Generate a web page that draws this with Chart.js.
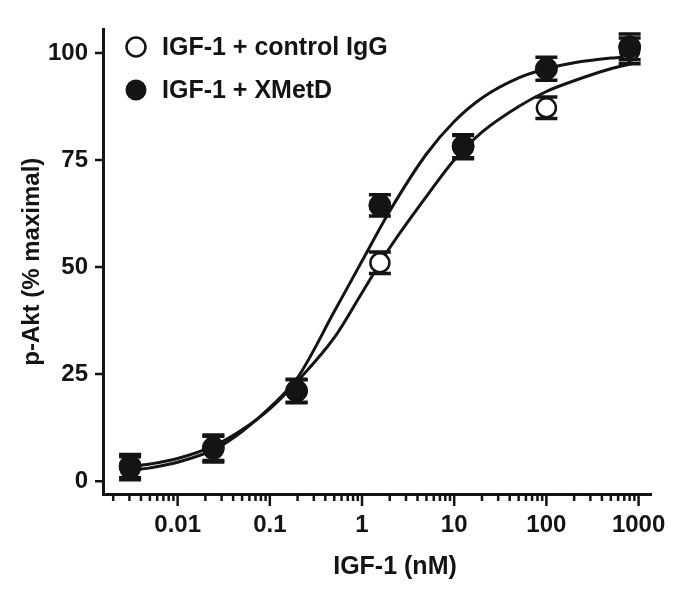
<!DOCTYPE html>
<html>
<head>
<meta charset="utf-8">
<style>
  html, body { margin: 0; padding: 0; background: #fff; }
  canvas { display: block; }
</style>
<script src="https://cdn.jsdelivr.net/npm/chart.js@4.4.1/dist/chart.umd.min.js"></script>
</head>
<body>
<canvas id="aktChart" width="683" height="600"></canvas>
<script>
// ===== Data =====
const doses = [0.00305, 0.0244, 0.195, 1.5625, 12.5, 100, 800];
const controlMean = [3.0, 7.5, 21.0, 51.0, 78.0, 87.2, 100.5];
const controlErr = [2.7, 3.0, 2.7, 2.5, 2.7, 2.5, 3.0];
const xmetdMean = [3.5, 7.8, 21.1, 64.4, 78.2, 96.3, 101.4];
const xmetdErr = [2.7, 3.0, 2.7, 2.5, 2.7, 2.7, 3.0];

// fitted curves
const fitDoses = [0.00305, 0.005, 0.01, 0.025, 0.05, 0.1, 0.2, 0.5, 1, 2, 5, 10, 20, 50, 100, 200, 500, 850];
const controlFit = [3.4, 4.0, 5.3, 8.3, 12.0, 16.9, 23.4, 33.5, 44.0, 54.5, 66.5, 75.0, 81.5, 87.5, 91.0, 93.5, 96.3, 97.5];
const xmetdFit = [2.5, 3.1, 4.4, 7.4, 11.6, 17.2, 24.2, 39.6, 51.4, 63.1, 76.4, 84.0, 89.5, 94.2, 96.3, 97.7, 98.8, 99.2];

const xTickValues = [0.01, 0.1, 1, 10, 100, 1000];
const xTickLabels = ["0.01", "0.1", "1", "10", "100", "1000"];
const yTickValues = [0, 25, 50, 75, 100];

const seriesLabels = ["IGF-1 + control IgG", "IGF-1 + XMetD"];

const INK = "#141414";
const FONT = "'Liberation Sans', Arial, sans-serif";

// ===== Error bars, axis ticks, legend =====
const decorPlugin = {
    id: "decor",
    beforeDatasetDraw(chart, args) {
        const ds = chart.data.datasets[args.index];
        if (!ds.errorBars) return;
        const ctx = chart.ctx;
        const xs = chart.scales.x, ys = chart.scales.y;
        ctx.save();
        ctx.strokeStyle = INK;
        ds.data.forEach((p, i) => {
            const x = xs.getPixelForValue(p.x);
            const yt = ys.getPixelForValue(p.y + ds.errorBars[i]);
            const yb = ys.getPixelForValue(p.y - ds.errorBars[i]);
            ctx.lineWidth = 3;
            ctx.beginPath();
            ctx.moveTo(x, yt); ctx.lineTo(x, yb);
            ctx.stroke();
            ctx.lineWidth = 3.5;
            ctx.beginPath();
            ctx.moveTo(x - 11, yt); ctx.lineTo(x + 11, yt);
            ctx.moveTo(x - 11, yb); ctx.lineTo(x + 11, yb);
            ctx.stroke();
        });
        ctx.restore();
    },
    afterDraw(chart) {
        const ctx = chart.ctx;
        const xs = chart.scales.x, ys = chart.scales.y;
        const area = chart.chartArea;
        ctx.save();
        ctx.strokeStyle = INK;
        ctx.lineWidth = 2.5;

        // x ticks: majors and 2..9 minors
        ctx.beginPath();
        for (let e = -3; e <= 3; e++) {
            for (let m = 1; m <= 9; m++) {
                const v = m * Math.pow(10, e);
                if (v < xs.min || v > xs.max) continue;
                const x = xs.getPixelForValue(v);
                ctx.moveTo(x, area.bottom);
                ctx.lineTo(x, area.bottom + (m === 1 ? 12 : 7));
            }
        }
        // y ticks
        yTickValues.forEach(v => {
            const y = ys.getPixelForValue(v);
            ctx.moveTo(area.left, y);
            ctx.lineTo(area.left - 8, y);
        });
        ctx.stroke();

        // x title
        ctx.fillStyle = INK;
        ctx.font = "bold 25px " + FONT;
        ctx.textAlign = "center";
        ctx.textBaseline = "middle";
        ctx.fillText("IGF-1 (nM)", 395, 567);

        // legend
        ctx.textAlign = "left";
        ctx.fillText(seriesLabels[0], 162, 48);
        ctx.fillText(seriesLabels[1], 162, 91);
        ctx.beginPath();
        ctx.arc(136, 47, 9.5, 0, Math.PI * 2);
        ctx.fillStyle = "#fff";
        ctx.fill();
        ctx.lineWidth = 2.5;
        ctx.stroke();
        ctx.beginPath();
        ctx.arc(136, 90, 10.5, 0, Math.PI * 2);
        ctx.fillStyle = INK;
        ctx.fill();
        ctx.restore();
    }
};

const toPoints = (xs, ys) => xs.map((x, i) => ({ x: x, y: ys[i] }));

new Chart(document.getElementById("aktChart"), {
    type: "scatter",
    data: {
        datasets: [
            {
                label: seriesLabels[1],
                data: toPoints(doses, xmetdMean),
                errorBars: xmetdErr,
                pointRadius: 11,
                pointBackgroundColor: INK,
                pointBorderColor: INK,
                pointBorderWidth: 1,
                showLine: false,
                clip: false,
                order: 1
            },
            {
                label: seriesLabels[0],
                data: toPoints(doses, controlMean),
                errorBars: controlErr,
                pointRadius: 9.5,
                pointBackgroundColor: "#fff",
                pointBorderColor: INK,
                pointBorderWidth: 2.5,
                showLine: false,
                clip: false,
                order: 2
            },
            {
                label: "xmetd fit",
                data: toPoints(fitDoses, xmetdFit),
                showLine: true,
                borderColor: INK,
                borderWidth: 3,
                pointRadius: 0,
                cubicInterpolationMode: "monotone",
                order: 3
            },
            {
                label: "control fit",
                data: toPoints(fitDoses, controlFit),
                showLine: true,
                borderColor: INK,
                borderWidth: 3,
                pointRadius: 0,
                cubicInterpolationMode: "monotone",
                order: 4
            }
        ]
    },
    options: {
        responsive: false,
        animation: false,
        layout: { padding: { left: 0, right: 31, top: 18, bottom: 0 } },
        plugins: {
            legend: { display: false },
            tooltip: { enabled: false }
        },
        scales: {
            x: {
                type: "logarithmic",
                min: 0.00155,
                max: 1380,
                grid: { display: false, drawTicks: false },
                border: { display: true, color: INK, width: 3 },
                afterBuildTicks: s => { s.ticks = xTickValues.map(v => ({ value: v })); },
                afterFit: s => { s.height = 106; },
                ticks: {
                    autoSkip: false,
                    maxRotation: 0,
                    padding: 17,
                    color: INK,
                    font: { family: FONT, size: 24, weight: "bold" },
                    callback: (v, i) => xTickLabels[i]
                }
            },
            y: {
                min: -3,
                max: 105.5,
                grid: { display: false, drawTicks: false },
                border: { display: true, color: INK, width: 3 },
                afterBuildTicks: s => { s.ticks = yTickValues.map(v => ({ value: v })); },
                afterFit: s => { s.width = 103; },
                ticks: {
                    padding: 15,
                    color: INK,
                    font: { family: FONT, size: 24, weight: "bold" }
                },
                title: {
                    display: true,
                    text: "p-Akt (% maximal)",
                    color: INK,
                    padding: { top: 18, bottom: 0 },
                    font: { family: FONT, size: 24, weight: "bold" }
                }
            }
        }
    },
    plugins: [decorPlugin]
});
</script>
</body>
</html>
